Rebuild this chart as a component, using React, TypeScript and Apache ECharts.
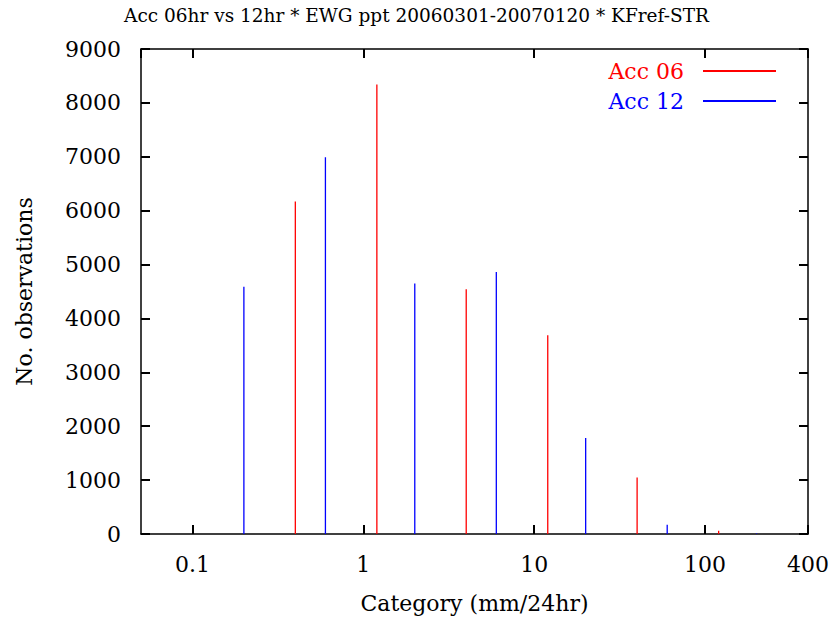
import React, { useEffect, useRef } from "react";
import * as echarts from "echarts";

const titleText = "Acc 06hr vs 12hr * EWG ppt 20060301-20070120 * KFref-STR";
const xName = "Category (mm/24hr)";
const yName = "No. observations";

const acc06Name = "Acc 06";
const acc06X = [0.4, 1.2, 4, 12, 40, 120];
const acc06Y = [6170, 8340, 4540, 3690, 1050, 60];

const acc12Name = "Acc 12";
const acc12X = [0.2, 0.6, 2, 6, 20, 60, 200];
const acc12Y = [4590, 6990, 4650, 4860, 1780, 170, 10];

const xMin = 0.05;
const xMax = 400;
const yMin = 0;
const yMax = 9000;
const yInterval = 1000;

const RED = "#ff0000";
const BLUE = "#0000ff";
const FONT = "'DejaVu Serif', 'Liberation Serif', serif";

function impulses(name: string, xs: number[], ys: number[], color: string) {
  return {
    type: "custom",
    name,
    xAxisIndex: 0,
    yAxisIndex: 0,
    data: xs.map((x, i) => [x, ys[i]]),
    encode: { x: 0, y: 1 },
    clip: true,
    itemStyle: { color },
    renderItem: (params: any, api: any) => {
      const x = api.value(0);
      const y = api.value(1);
      const p0 = api.coord([x, 0]);
      const p1 = api.coord([x, y]);
      return {
        type: "line",
        shape: { x1: p0[0], y1: p0[1], x2: p1[0], y2: p1[1] },
        style: { stroke: color, lineWidth: 1.3 },
      };
    },
  };
}

export default function App() {
  const ref = useRef<HTMLDivElement>(null);
  useEffect(() => {
    if (!ref.current) return;
    const chart = echarts.init(ref.current, null, { renderer: "svg" });
    const axisLine = () => ({ show: true, onZero: false, lineStyle: { color: "#000", width: 1.5 } });
    const tick = () => ({ show: true, inside: true, length: 9, lineStyle: { color: "#000", width: 2 } });
    const fmt = (v: number) => String(Number(Number(v).toPrecision(6)));
    chart.setOption({
      animation: false,
      backgroundColor: "#fff",
      title: {
        text: titleText,
        left: "center",
        top: 1,
        textStyle: { fontFamily: FONT, fontSize: 18.5, fontWeight: "normal", color: "#000" },
      },
      legend: {
        orient: "vertical",
        right: 57,
        top: 60,
        padding: 0,
        align: "right",
        itemWidth: 73,
        itemHeight: 2,
        itemGap: 8,
        icon: "rect",
        textStyle: { fontFamily: FONT, fontSize: 22, lineHeight: 22, padding: [0, 14, 0, 0] },
        data: [
          { name: acc06Name, textStyle: { color: RED }, itemStyle: { color: RED } },
          { name: acc12Name, textStyle: { color: BLUE }, itemStyle: { color: BLUE } },
        ],
      },
      grid: { left: 141, right: 25, top: 49, bottom: 89, containLabel: false },
      xAxis: [
        {
          type: "log",
          logBase: 10,
          min: xMin,
          max: xMax,
          position: "bottom",
          name: xName,
          nameLocation: "middle",
          nameGap: 58,
          nameTextStyle: { fontFamily: FONT, fontSize: 22, color: "#000" },
          axisLine: axisLine(),
          axisTick: tick(),
          splitLine: { show: false },
          minorTick: { show: false },
          axisLabel: {
            fontFamily: FONT,
            fontSize: 22,
            color: "#000",
            margin: 19,
            showMinLabel: false,
            showMaxLabel: true,
            formatter: fmt,
          },
        },
        {
          type: "log",
          logBase: 10,
          min: xMin,
          max: xMax,
          position: "top",
          axisLine: axisLine(),
          axisTick: tick(),
          splitLine: { show: false },
          axisLabel: { show: false },
        },
      ],
      yAxis: [
        {
          type: "value",
          min: yMin,
          max: yMax,
          interval: yInterval,
          position: "left",
          name: yName,
          nameLocation: "middle",
          nameGap: 106,
          nameTextStyle: { fontFamily: FONT, fontSize: 22, color: "#000" },
          axisLine: axisLine(),
          axisTick: tick(),
          splitLine: { show: false },
          axisLabel: { fontFamily: FONT, fontSize: 22, color: "#000", margin: 20, formatter: (v: number) => String(v) },
        },
        {
          type: "value",
          min: yMin,
          max: yMax,
          interval: yInterval,
          position: "right",
          axisLine: axisLine(),
          axisTick: tick(),
          splitLine: { show: false },
          axisLabel: { show: false },
        },
      ],
      series: [
        impulses(acc06Name, acc06X, acc06Y, RED),
        impulses(acc12Name, acc12X, acc12Y, BLUE),
      ],
    });
    return () => chart.dispose();
  }, []);
  return <div ref={ref} style={{ width: 833, height: 623, position: "absolute", left: 0, top: 0 }} />;
}
